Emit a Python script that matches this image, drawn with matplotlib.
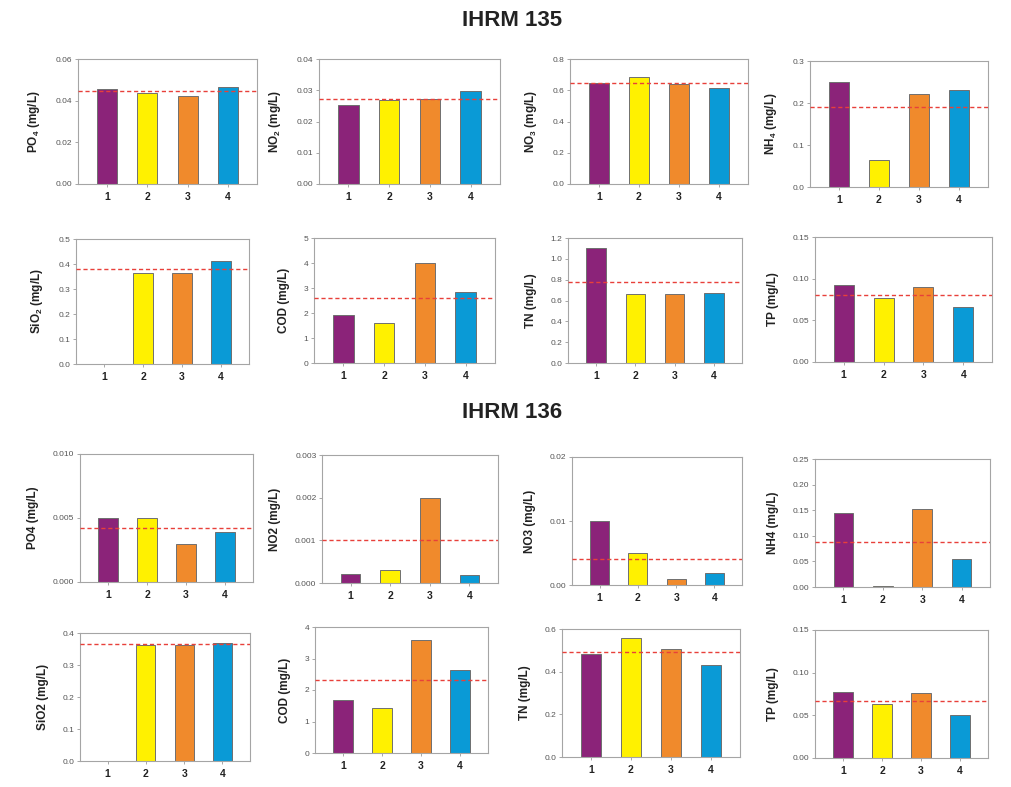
import matplotlib.pyplot as plt
import numpy as np

plt.rcParams['font.family'] = ['Liberation Sans', 'DejaVu Sans']
plt.rcParams['mathtext.fontset'] = 'custom'
plt.rcParams['mathtext.rm'] = 'Liberation Sans:bold'
plt.rcParams['mathtext.bf'] = 'Liberation Sans:bold'

# stations
sites = [1, 2, 3, 4]
bar_colors = ['#8b2379', '#fff100', '#f08a2c', '#0a9ad6']

# IHRM 135
labels_135 = ['PO$_\\mathrm{4}$ (mg/L)', 'NO$_\\mathrm{2}$ (mg/L)', 'NO$_\\mathrm{3}$ (mg/L)', 'NH$_\\mathrm{4}$ (mg/L)',
              'SiO$_\\mathrm{2}$ (mg/L)', 'COD (mg/L)', 'TN (mg/L)', 'TP (mg/L)']
po4_135 = [0.0454, 0.0435, 0.0422, 0.0467]
no2_135 = [0.0252, 0.0269, 0.0272, 0.0297]
no3_135 = [0.648, 0.683, 0.638, 0.612]
nh4_135 = [0.251, 0.065, 0.222, 0.230]
sio2_135 = [0.0, 0.364, 0.364, 0.413]
cod_135 = [1.94, 1.62, 3.99, 2.83]
tn_135 = [1.104, 0.666, 0.666, 0.669]
tp_135 = [0.0928, 0.0764, 0.0904, 0.0664]
mean_135 = [0.0445, 0.0271, 0.644, 0.191, 0.381, 2.61, 0.778, 0.0808]

# IHRM 136
labels_136 = ['PO4 (mg/L)', 'NO2 (mg/L)', 'NO3 (mg/L)', 'NH4 (mg/L)',
              'SiO2 (mg/L)', 'COD (mg/L)', 'TN (mg/L)', 'TP (mg/L)']
po4_136 = [0.00501, 0.0050, 0.0030, 0.00389]
no2_136 = [0.0002, 0.0003, 0.00199, 0.00018]
no3_136 = [0.0100, 0.0050, 0.0010, 0.0019]
nh4_136 = [0.144, 0.0026, 0.153, 0.055]
sio2_136 = [0.0, 0.3634, 0.363, 0.3675]
cod_136 = [1.67, 1.415, 3.60, 2.63]
tn_136 = [0.481, 0.559, 0.506, 0.429]
tp_136 = [0.0772, 0.0627, 0.0764, 0.0509]
mean_136 = [0.0042, 0.0010, 0.0040, 0.0884, 0.3654, 2.33, 0.4935, 0.0666]

# y-axis: max, step, decimals
ymax = [0.06, 0.04, 0.8, 0.3, 0.5, 5, 1.2, 0.15,
        0.010, 0.003, 0.02, 0.25, 0.4, 4, 0.6, 0.15]
ystep = [0.02, 0.01, 0.2, 0.1, 0.1, 1, 0.2, 0.05,
         0.005, 0.001, 0.01, 0.05, 0.1, 1, 0.2, 0.05]
ydec = [2, 2, 1, 1, 1, 0, 1, 2,
        3, 3, 2, 2, 1, 0, 1, 2]

series = [po4_135, no2_135, no3_135, nh4_135, sio2_135, cod_135, tn_135, tp_135,
          po4_136, no2_136, no3_136, nh4_136, sio2_136, cod_136, tn_136, tp_136]
means = mean_135 + mean_136
ylabels = labels_135 + labels_136

# panel boxes in pixels (left, top, right, bottom)
boxes = [(78, 59, 257, 184), (319, 59, 500, 184), (570, 59, 748, 184), (810, 61, 988, 187),
         (76, 239, 249, 364), (314, 238, 495, 363), (568, 238, 742, 363), (815, 237, 992, 362),
         (80, 454, 253, 582), (322, 455, 498, 583), (572, 457, 742, 585), (815, 459, 990, 587),
         (80, 633, 250, 761), (315, 627, 488, 753), (562, 629, 740, 757), (815, 630, 988, 758)]

W, H = 1011, 787
fig = plt.figure(figsize=(W / 100, H / 100), dpi=100)

for i in range(16):
    l, t, r, b = boxes[i]
    ax = fig.add_axes([l / W, 1 - b / H, (r - l) / W, (b - t) / H])
    ax.bar(sites, series[i], width=0.5, color=bar_colors,
           edgecolor='#6f6f6f', linewidth=0.7, zorder=2)
    ax.axhline(means[i], color='#e8403a', linestyle=(0, (3, 2)), linewidth=1.0, zorder=3)
    ax.set_xlim(0.28, 4.72)
    ax.set_ylim(0, ymax[i])
    ticks = np.arange(0, ymax[i] + ystep[i] / 2, ystep[i])
    ax.set_yticks(ticks)
    ax.set_yticklabels(['%.*f' % (ydec[i], v) for v in ticks])
    ax.set_xticks(sites)
    ax.set_xticklabels([str(s) for s in sites], fontweight='bold', fontsize=7.5, color='#222222')
    ax.tick_params(axis='y', labelsize=6, labelcolor='#555555', color='#999999', length=2.5, width=0.6, pad=1.5)
    ax.tick_params(axis='x', color='#999999', length=2, width=0.6, pad=4)
    for sp in ax.spines.values():
        sp.set_color('#a5a5a5')
        sp.set_linewidth(0.8)
    ax.set_ylabel(ylabels[i], fontsize=8.5, fontweight='bold', color='#222222', labelpad=10)

fig.text(0.506, 1 - 20 / H, 'IHRM 135', ha='center', va='center', fontsize=16, fontweight='bold', color='#222222')
fig.text(0.506, 1 - 412 / H, 'IHRM 136', ha='center', va='center', fontsize=16, fontweight='bold', color='#222222')

plt.savefig('out.png', dpi=100)
